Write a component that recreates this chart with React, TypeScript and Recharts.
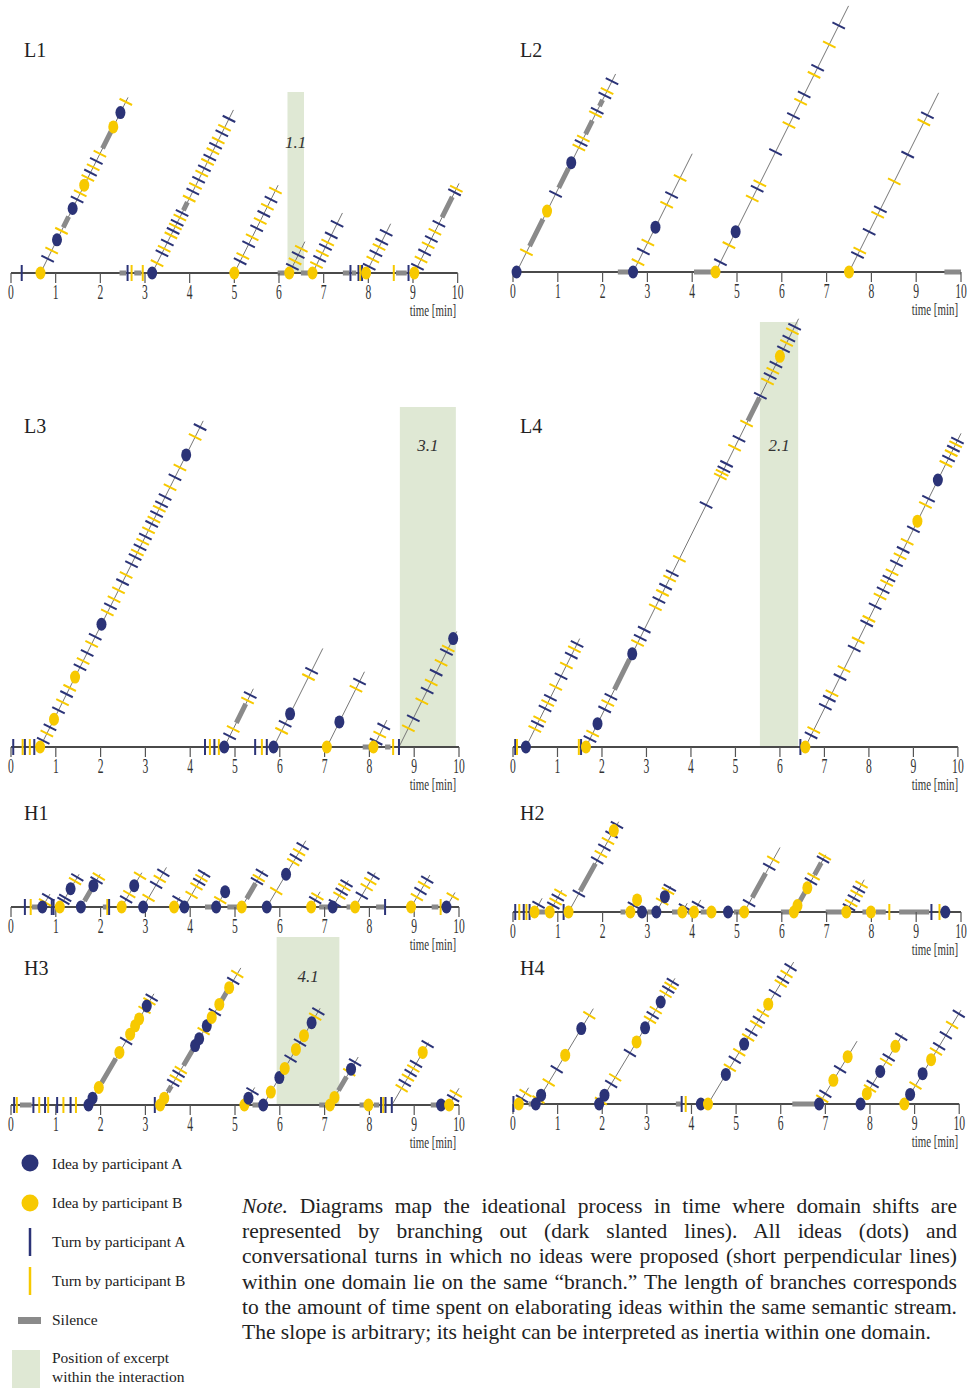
import React from 'react';
import { ComposedChart, XAxis, YAxis, Line, Scatter, ReferenceArea } from 'recharts';

// ---------- DATA ----------
// mark kinds: 'a' turn A, 'b' turn B, 'A' idea A, 'B' idea B ; times in minutes
type Mark = [number, string];
type Seg = [number, number];
type Branch = { s: number; e: number; m: Mark[]; q?: Seg[] };

const TIME_TICKS = [0, 1, 2, 3, 4, 5, 6, 7, 8, 9, 10];

const L1_base: Mark[] = [[0.24,'a'],[0.66,'B'],[2.61,'a'],[2.7,'b'],[2.95,'b'],[3.16,'A'],[5.0,'B'],[6.23,'B'],[6.75,'B'],[7.6,'a'],[7.78,'a'],[7.82,'b'],[7.86,'a'],[7.95,'B'],[8.57,'b'],[8.9,'a'],[9.03,'B']];
const L1_silence: Seg[] = [[2.43,2.58],[2.76,2.92],[5.97,6.13],[6.49,6.65],[7.43,7.58],[7.63,7.73],[8.62,8.86]];
const L1_branches: Branch[] = [
  { s: 0.66, e: 2.62, m: [[0.82,'a'],[0.91,'b'],[1.03,'A'],[1.13,'b'],[1.38,'A'],[1.48,'a'],[1.55,'b'],[1.64,'B'],[1.72,'b'],[1.78,'a'],[1.84,'b'],[1.91,'a'],[1.99,'b'],[2.29,'B'],[2.45,'A'],[2.57,'b']], q: [[1.17,1.29],[2.05,2.24]] },
  { s: 3.16, e: 4.98, m: [[3.27,'b'],[3.38,'a'],[3.43,'b'],[3.5,'a'],[3.58,'b'],[3.63,'a'],[3.68,'b'],[3.72,'a'],[3.78,'b'],[3.83,'a'],[3.99,'b'],[4.07,'a'],[4.13,'b'],[4.2,'a'],[4.27,'b'],[4.33,'a'],[4.4,'b'],[4.45,'a'],[4.52,'b'],[4.58,'a'],[4.64,'b'],[4.72,'a'],[4.78,'b'],[4.88,'a']], q: [[3.86,3.95]] },
  { s: 5.0, e: 5.98, m: [[5.13,'a'],[5.19,'b'],[5.32,'a'],[5.4,'b'],[5.5,'a'],[5.58,'b'],[5.66,'a'],[5.74,'b'],[5.82,'a'],[5.92,'b']] },
  { s: 6.23, e: 6.58, m: [[6.3,'a'],[6.36,'b'],[6.43,'a'],[6.5,'b']] },
  { s: 6.75, e: 7.42, m: [[6.84,'b'],[6.91,'a'],[6.97,'b'],[7.04,'a'],[7.09,'b'],[7.17,'a'],[7.3,'a']] },
  { s: 7.95, e: 8.5, m: [[8.02,'a'],[8.1,'b'],[8.17,'a'],[8.24,'b'],[8.3,'a'],[8.4,'a']] },
  { s: 9.03, e: 10.03, m: [[9.1,'a'],[9.18,'b'],[9.26,'a'],[9.34,'b'],[9.41,'a'],[9.49,'b'],[9.58,'a'],[9.93,'a'],[9.97,'b']], q: [[9.65,9.88]] },
];
const L1_excerpt: Seg = [6.19, 6.56];

const L2_base: Mark[] = [[0.08,'A'],[2.68,'A'],[4.52,'B'],[7.5,'B']];
const L2_silence: Seg[] = [[2.34,2.66],[4.04,4.49],[9.63,10]];
const L2_branches: Branch[] = [
  { s: 0.08, e: 2.29, m: [[0.3,'b'],[0.76,'B'],[0.95,'a'],[1.3,'A'],[1.47,'b'],[1.52,'a'],[1.57,'b'],[1.84,'b'],[1.88,'a'],[2.05,'a'],[2.1,'b'],[2.21,'a']], q: [[0.37,0.67],[1.02,1.24],[1.62,1.77],[1.93,2.0]] },
  { s: 2.68, e: 4.0, m: [[2.79,'b'],[2.91,'a'],[3.01,'b'],[3.18,'A'],[3.43,'b'],[3.54,'a'],[3.73,'b']] },
  { s: 4.52, e: 7.49, m: [[4.63,'a'],[4.82,'b'],[4.97,'A'],[5.34,'b'],[5.45,'a'],[5.51,'b'],[5.86,'a'],[6.16,'b'],[6.26,'a'],[6.42,'b'],[6.5,'a'],[6.72,'b'],[6.8,'a'],[7.06,'b'],[7.27,'a']] },
  { s: 7.5, e: 9.5, m: [[7.69,'a'],[7.74,'b'],[7.95,'a'],[8.14,'b'],[8.2,'a'],[8.51,'b'],[8.81,'a'],[9.17,'b'],[9.25,'a']] },
];

const L3_base: Mark[] = [[0.05,'a'],[0.26,'b'],[0.31,'a'],[0.42,'b'],[0.52,'a'],[0.65,'B'],[4.33,'a'],[4.44,'b'],[4.54,'a'],[4.64,'b'],[4.76,'A'],[5.45,'a'],[5.6,'b'],[5.71,'a'],[5.86,'A'],[7.05,'B'],[8.09,'B'],[8.53,'b'],[8.66,'a']];
const L3_silence: Seg[] = [[7.85,8.01],[8.35,8.47]];
const L3_branches: Branch[] = [
  { s: 0.65, e: 4.29, m: [[0.72,'a'],[0.8,'b'],[0.87,'a'],[0.96,'B'],[1.06,'a'],[1.15,'b'],[1.24,'a'],[1.31,'b'],[1.43,'B'],[1.54,'a'],[1.61,'b'],[1.7,'a'],[1.8,'b'],[1.88,'a'],[2.02,'A'],[2.15,'b'],[2.22,'a'],[2.3,'b'],[2.4,'b'],[2.49,'a'],[2.57,'b'],[2.69,'a'],[2.77,'a'],[2.82,'b'],[2.88,'a'],[2.94,'b'],[3.0,'a'],[3.07,'b'],[3.14,'a'],[3.19,'b'],[3.25,'a'],[3.31,'b'],[3.36,'a'],[3.44,'a'],[3.55,'b'],[3.66,'a'],[3.77,'b'],[3.91,'A'],[4.11,'b'],[4.22,'a']] },
  { s: 4.76, e: 5.41, m: [[4.88,'a'],[4.96,'b'],[5.28,'b'],[5.34,'a']], q: [[5.03,5.24]] },
  { s: 5.86, e: 6.96, m: [[6.04,'b'],[6.12,'a'],[6.23,'A'],[6.64,'b'],[6.71,'a']] },
  { s: 7.05, e: 7.89, m: [[7.33,'A'],[7.7,'b'],[7.78,'a']] },
  { s: 8.09, e: 8.39, m: [[8.15,'a'],[8.23,'b'],[8.32,'a']] },
  { s: 8.66, e: 9.95, m: [[8.87,'b'],[8.98,'a'],[9.17,'b'],[9.29,'a'],[9.38,'b'],[9.49,'a'],[9.6,'b'],[9.72,'a'],[9.76,'b'],[9.87,'A']] },
];
const L3_excerpt: Seg = [8.68, 9.93];

const L4_base: Mark[] = [[0.05,'a'],[0.09,'b'],[0.29,'A'],[1.48,'b'],[1.53,'a'],[1.64,'B'],[6.46,'a'],[6.57,'B']];
const L4_silence: Seg[] = [];
const L4_branches: Branch[] = [
  { s: 0.29, e: 1.5, m: [[0.49,'b'],[0.55,'a'],[0.6,'b'],[0.72,'a'],[0.78,'b'],[0.84,'a'],[0.96,'b'],[1.08,'a'],[1.2,'b'],[1.31,'a'],[1.38,'b'],[1.44,'a']] },
  { s: 1.64, e: 6.42, m: [[1.73,'a'],[1.79,'b'],[1.9,'A'],[2.06,'a'],[2.13,'b'],[2.2,'a'],[2.68,'A'],[2.8,'b'],[2.86,'a'],[2.95,'a'],[3.2,'b'],[3.28,'a'],[3.36,'b'],[3.43,'a'],[3.52,'b'],[3.58,'a'],[3.74,'b'],[4.34,'a'],[4.66,'b'],[4.7,'b'],[4.74,'a'],[4.8,'a'],[4.98,'b'],[5.08,'a'],[5.25,'b'],[5.56,'a'],[5.72,'b'],[5.78,'a'],[5.84,'b'],[5.91,'a'],[6.0,'B'],[6.08,'a'],[6.15,'b'],[6.2,'a'],[6.28,'b'],[6.33,'a']], q: [[2.28,2.62],[5.28,5.54]] },
  { s: 6.57, e: 10.07, m: [[6.7,'a'],[6.76,'b'],[7.02,'a'],[7.11,'a'],[7.17,'b'],[7.35,'a'],[7.44,'b'],[7.67,'a'],[7.76,'b'],[7.95,'a'],[8.0,'b'],[8.14,'a'],[8.25,'b'],[8.32,'a'],[8.4,'b'],[8.45,'a'],[8.52,'b'],[8.62,'a'],[8.7,'b'],[8.77,'a'],[8.86,'b'],[9.0,'a'],[9.09,'B'],[9.27,'b'],[9.34,'a'],[9.55,'A'],[9.73,'b'],[9.79,'a'],[9.85,'b'],[9.9,'a'],[9.95,'b'],[9.99,'a']] },
];
const L4_excerpt: Seg = [5.55, 6.41];

const H1_base: Mark[] = [[0.31,'a'],[0.44,'b'],[0.7,'A'],[0.91,'a'],[0.95,'a'],[1.09,'B'],[1.56,'A'],[2.15,'b'],[2.19,'a'],[2.47,'B'],[2.95,'A'],[3.64,'B'],[3.87,'A'],[4.58,'A'],[5.15,'B'],[5.71,'A'],[6.7,'B'],[7.18,'A'],[7.68,'B'],[8.35,'a'],[8.93,'B'],[9.59,'b'],[9.72,'A']];
const H1_silence: Seg[] = [[0.47,0.64],[2.05,2.14],[4.33,4.52],[4.83,5.07],[6.88,7.08],[7.49,7.58],[8.15,8.33],[9.39,9.54]];
const H1_branches: Branch[] = [
  { s: 0.7, e: 0.87, m: [[0.76,'b'],[0.83,'a']] },
  { s: 1.09, e: 1.52, m: [[1.17,'a'],[1.21,'a'],[1.33,'A'],[1.43,'b'],[1.48,'a']] },
  { s: 1.56, e: 1.99, m: [[1.84,'A'],[1.91,'a'],[1.96,'b']], q: [[1.64,1.8]] },
  { s: 2.47, e: 2.92, m: [[2.57,'a'],[2.64,'b'],[2.75,'A'],[2.88,'b']] },
  { s: 2.95, e: 3.47, m: [[3.07,'b'],[3.24,'a'],[3.32,'b'],[3.4,'a']] },
  { s: 3.64, e: 3.77, m: [[3.74,'a']] },
  { s: 3.87, e: 4.33, m: [[4.03,'b'],[4.14,'b'],[4.2,'a'],[4.25,'b'],[4.31,'a']] },
  { s: 4.58, e: 4.8, m: [[4.67,'b'],[4.78,'A']] },
  { s: 5.15, e: 5.63, m: [[5.49,'a'],[5.53,'b'],[5.6,'a']], q: [[5.26,5.46]] },
  { s: 5.71, e: 6.58, m: [[5.92,'b'],[6.14,'A'],[6.3,'b'],[6.36,'a'],[6.43,'b'],[6.51,'a']] },
  { s: 6.7, e: 6.9, m: [[6.79,'a'],[6.84,'b']] },
  { s: 7.18, e: 7.53, m: [[7.23,'a'],[7.33,'b'],[7.38,'a'],[7.44,'b'],[7.49,'a']] },
  { s: 7.68, e: 8.13, m: [[7.83,'a'],[7.94,'b'],[8.02,'b'],[8.09,'a']] },
  { s: 8.93, e: 9.35, m: [[9.06,'b'],[9.14,'a'],[9.22,'b'],[9.29,'a']] },
  { s: 9.72, e: 9.91, m: [[9.86,'b']] },
];

const H2_base: Mark[] = [[0.05,'a'],[0.14,'b'],[0.24,'a'],[0.3,'b'],[0.37,'a'],[0.48,'B'],[0.82,'B'],[1.13,'a'],[1.24,'B'],[2.62,'B'],[2.88,'A'],[3.2,'A'],[3.78,'B'],[4.04,'B'],[4.43,'B'],[4.8,'A'],[5.16,'B'],[6.27,'B'],[7.44,'B'],[7.99,'B'],[8.4,'b'],[9.34,'a'],[9.52,'b'],[9.65,'A']];
const H2_silence: Seg[] = [[0.55,0.72],[2.4,2.51],[3.0,3.13],[3.55,3.7],[3.9,3.98],[4.19,4.34],[4.93,5.07],[5.98,6.2],[6.98,7.39],[7.8,7.91],[8.1,8.32],[8.62,9.29]];
const H2_branches: Branch[] = [
  { s: 0.48, e: 0.65, m: [[0.57,'a']] },
  { s: 0.82, e: 1.09, m: [[0.9,'a'],[0.95,'b'],[1.0,'a'],[1.06,'b']] },
  { s: 1.24, e: 2.36, m: [[1.47,'a'],[1.88,'a'],[1.96,'b'],[2.04,'a'],[2.12,'b'],[2.2,'a'],[2.25,'B'],[2.32,'a']], q: [[1.5,1.84]] },
  { s: 2.62, e: 2.79, m: [[2.7,'a'],[2.77,'B']] },
  { s: 3.2, e: 3.52, m: [[3.33,'b'],[3.39,'A'],[3.46,'b'],[3.5,'a']] },
  { s: 3.78, e: 3.89, m: [[3.84,'a']] },
  { s: 4.04, e: 4.19, m: [[4.13,'a']] },
  { s: 5.16, e: 5.96, m: [[5.27,'a'],[5.72,'a'],[5.81,'b']], q: [[5.34,5.64]] },
  { s: 6.27, e: 6.98, m: [[6.35,'B'],[6.57,'B'],[6.65,'a'],[6.71,'b'],[6.92,'a'],[6.96,'b']], q: [[6.4,6.52],[6.73,6.88]] },
  { s: 7.44, e: 7.84, m: [[7.5,'a'],[7.55,'b'],[7.61,'a'],[7.67,'b'],[7.72,'a'],[7.78,'b']] },
];

const H3_base: Mark[] = [[0.07,'a'],[0.13,'b'],[0.5,'a'],[0.63,'b'],[0.76,'a'],[0.83,'b'],[1.03,'a'],[1.17,'b'],[1.33,'a'],[1.45,'b'],[1.73,'A'],[3.21,'a'],[3.33,'B'],[5.21,'B'],[5.63,'A'],[7.12,'B'],[7.98,'B'],[8.26,'a'],[8.31,'b'],[8.36,'a'],[8.5,'a'],[9.6,'A'],[9.78,'B']];
const H3_silence: Seg[] = [[0.2,0.46],[5.39,5.56],[6.88,7.08],[7.78,7.92],[8.1,8.22],[9.37,9.54]];
const H3_branches: Branch[] = [
  { s: 1.73, e: 3.19, m: [[1.82,'A'],[1.96,'B'],[2.42,'B'],[2.57,'a'],[2.66,'B'],[2.77,'B'],[2.86,'B'],[2.98,'b'],[3.03,'A'],[3.09,'b'],[3.14,'a']], q: [[2.02,2.34]] },
  { s: 3.33, e: 5.13, m: [[3.42,'B'],[3.62,'a'],[3.68,'b'],[3.74,'a'],[3.79,'b'],[4.11,'A'],[4.2,'A'],[4.3,'b'],[4.37,'A'],[4.48,'B'],[4.55,'a'],[4.65,'B'],[4.87,'B'],[4.96,'a'],[5.05,'b']], q: [[3.5,3.58],[3.85,4.06],[4.7,4.82]] },
  { s: 5.21, e: 5.44, m: [[5.3,'A'],[5.39,'a']] },
  { s: 5.63, e: 6.9, m: [[5.8,'B'],[5.99,'A'],[6.11,'B'],[6.24,'a'],[6.36,'B'],[6.45,'a'],[6.54,'B'],[6.71,'A'],[6.79,'b'],[6.86,'a']] },
  { s: 7.12, e: 7.75, m: [[7.22,'B'],[7.55,'b'],[7.59,'A'],[7.68,'a']], q: [[7.31,7.49]] },
  { s: 8.5, e: 9.32, m: [[8.72,'b'],[8.79,'a'],[8.86,'b'],[8.92,'a'],[8.98,'b'],[9.04,'a'],[9.19,'B'],[9.3,'a']] },
  { s: 9.78, e: 10.0, m: [[9.87,'a'],[9.93,'b']] },
];
const H3_excerpt: Seg = [5.93, 7.33];

const H4_base: Mark[] = [[0.01,'a'],[0.13,'B'],[0.51,'A'],[1.93,'A'],[3.78,'a'],[3.87,'b'],[4.21,'A'],[4.37,'B'],[6.86,'A'],[7.79,'A'],[8.77,'B']];
const H4_silence: Seg[] = [[0.35,0.46],[3.65,3.76],[6.26,6.8]];
const H4_branches: Branch[] = [
  { s: 0.13, e: 0.35, m: [[0.2,'a'],[0.28,'b']] },
  { s: 0.51, e: 1.8, m: [[0.57,'b'],[0.63,'A'],[0.8,'b'],[0.98,'a'],[1.17,'B'],[1.53,'A'],[1.71,'b']] },
  { s: 1.93, e: 3.63, m: [[1.97,'b'],[2.05,'A'],[2.2,'a'],[2.29,'b'],[2.62,'a'],[2.77,'B'],[2.96,'A'],[3.07,'b'],[3.13,'a'],[3.2,'b'],[3.31,'A'],[3.42,'b'],[3.48,'a'],[3.53,'b'],[3.58,'a']] },
  { s: 4.37, e: 6.29, m: [[4.77,'A'],[4.86,'b'],[4.97,'a'],[5.07,'b'],[5.18,'A'],[5.27,'b'],[5.34,'a'],[5.45,'b'],[5.51,'a'],[5.6,'b'],[5.72,'B'],[5.87,'a'],[6.0,'b'],[6.05,'a'],[6.13,'b'],[6.22,'a']] },
  { s: 6.86, e: 7.71, m: [[6.93,'b'],[7.0,'a'],[7.18,'B'],[7.33,'a'],[7.5,'B']] },
  { s: 7.79, e: 8.73, m: [[7.93,'B'],[8.0,'b'],[8.06,'a'],[8.23,'A'],[8.36,'b'],[8.42,'a'],[8.57,'B'],[8.7,'a']] },
  { s: 8.77, e: 10.04, m: [[8.9,'A'],[9.02,'b'],[9.18,'A'],[9.37,'B'],[9.48,'b'],[9.55,'a'],[9.7,'a'],[9.84,'b'],[9.99,'a']] },
];

const LEGEND_LABELS = ['Idea by participant A', 'Idea by participant B', 'Turn by participant A', 'Turn by participant B', 'Silence', 'Position of excerpt', 'within the interaction'];
const NOTE_LINES = [
  'Diagrams map the ideational process in time where domain shifts are',
  'represented by branching out (dark slanted lines). All ideas (dots) and',
  'conversational turns in which no ideas were proposed (short perpendicular lines)',
  'within one domain lie on the same \u201Cbranch.\u201D The length of branches corresponds',
  'to the amount of time spent on elaborating ideas within the same semantic stream.',
  'The slope is arbitrary; its height can be interpreted as inertia within one domain.',
];

// ---------- STYLE / LAYOUT ----------
const NAVY = '#2b3377';
const YELLOW = '#f7c900';
const SIL = '#8a8a8a';
const GREEN = '#dfe8d4';
const SERIF = '"Liberation Serif", "Times New Roman", serif';
const PX = 44.8;
const PLOTW = 448;
const ML = 12, MR = 16, XH = 50;

function build(base: Mark[], sil: Seg[], branches: Branch[], slope: number) {
  const baseline = [{ x: 0, y: 0 }, { x: 10, y: 0 }];
  const branchLine: any[] = [];
  branches.forEach((b) => {
    branchLine.push({ x: b.s, y: 0 }, { x: b.e, y: slope * (b.e - b.s) }, { x: b.e, y: null });
  });
  const silence: any[] = [];
  sil.forEach(([a, c]) => silence.push({ x: a, y: 0 }, { x: c, y: 0 }, { x: c, y: null }));
  branches.forEach((b) => (b.q || []).forEach(([a, c]) => {
    silence.push({ x: a, y: slope * (a - b.s) }, { x: c, y: slope * (c - b.s) }, { x: c, y: null });
  }));
  const turns: any[] = [];
  const ideas: any[] = [];
  const add = (t: number, k: string, y: number, br: boolean) => {
    const rec = { x: t, y, who: k.toUpperCase(), br, slope };
    if (k === 'a' || k === 'b') turns.push(rec); else ideas.push(rec);
  };
  base.forEach(([t, k]) => add(t, k, 0, false));
  branches.forEach((b) => b.m.forEach(([t, k]) => add(t, k, slope * (t - b.s), true)));
  return { baseline, branchLine, silence, turns, ideas };
}

const TickShape = (p: any) => {
  const { cx, cy, payload } = p;
  if (cx == null || cy == null) return <g />;
  const col = payload.who === 'A' ? NAVY : YELLOW;
  let dx = 0, dy = 8;
  if (payload.br) {
    const n = Math.sqrt(1 + payload.slope * payload.slope);
    dx = (7 * payload.slope) / n;
    dy = 7 / n;
  }
  return <line x1={cx - dx} y1={cy - dy} x2={cx + dx} y2={cy + dy} stroke={col} strokeWidth={2} />;
};

const IdeaShape = (p: any) => {
  const { cx, cy, payload } = p;
  if (cx == null || cy == null) return <g />;
  return <ellipse cx={cx} cy={cy} rx={5} ry={6.5} fill={payload.who === 'A' ? NAVY : YELLOW} />;
};

const AxisTick = (p: any) => (
  <text transform={`translate(${p.x},${p.y + 14}) scale(0.58,1)`} textAnchor="middle" fontFamily={SERIF} fontSize={20} fill="#333">
    {p.payload.value}
  </text>
);

type PanelCfg = {
  name: string; x0: number; baseline: number; top: number; slope: number;
  base: Mark[]; sil: Seg[]; branches: Branch[];
  excerpt?: Seg; exLabel?: string; exTop?: number; exOffset?: number; labelX: number; labelY: number;
};

function Panel({ c }: { c: PanelCfg }) {
  const d = build(c.base, c.sil, c.branches, c.slope);
  const plotH = c.baseline - c.top;
  const ymax = plotH / PX;
  const lineCommon = { dataKey: 'y', dot: false, activeDot: false, isAnimationActive: false, connectNulls: false, type: 'linear' as const };
  return (
    <>
      <div style={{ position: 'absolute', left: c.labelX, top: c.labelY - 13, fontFamily: SERIF, fontSize: 20, lineHeight: '26px', color: '#222' }}>{c.name}</div>
      <div style={{ position: 'absolute', left: c.x0 - ML, top: c.top }}>
        <ComposedChart width={ML + PLOTW + MR} height={plotH + XH} margin={{ top: 0, right: MR, left: ML, bottom: 0 }}>
          <XAxis type="number" dataKey="x" domain={[0, 10]} ticks={TIME_TICKS} interval={0} axisLine={false}
            tickLine={{ stroke: '#555', strokeWidth: 1.2 }} tickSize={10} height={XH} tick={<AxisTick />} />
          <YAxis type="number" dataKey="y" domain={[0, ymax]} hide />
          {c.excerpt && (
            <ReferenceArea x1={c.excerpt[0]} x2={c.excerpt[1]} y1={0} y2={(c.baseline - (c.exTop || 0)) / PX}
              fill={GREEN} fillOpacity={1} stroke="none" ifOverflow="visible"
              label={{ value: c.exLabel, position: 'insideTop', offset: c.exOffset, fill: '#333', fontSize: 17, fontStyle: 'italic', fontFamily: SERIF }} />
          )}
          <Line {...lineCommon} data={d.baseline} stroke="#4a4a4a" strokeWidth={1.8} />
          <Line {...lineCommon} data={d.branchLine} stroke="#777" strokeWidth={1} />
          <Line {...lineCommon} data={d.silence} stroke={SIL} strokeWidth={5} />
          <Scatter data={d.turns} shape={TickShape} isAnimationActive={false} />
          <Scatter data={d.ideas} shape={IdeaShape} isAnimationActive={false} />
        </ComposedChart>
      </div>
      <div style={{ position: 'absolute', left: c.x0 + PLOTW - 120, width: 117, top: c.baseline + 29, textAlign: 'right', fontFamily: SERIF, fontSize: 16, lineHeight: '18px', color: '#333', transform: 'scaleX(0.68)', transformOrigin: 'right center', whiteSpace: 'nowrap' }}>time [min]</div>
    </>
  );
}

const PANELS: PanelCfg[] = [
  { name: 'L1', x0: 11, baseline: 273, top: 85, slope: 2, base: L1_base, sil: L1_silence, branches: L1_branches, excerpt: L1_excerpt, exLabel: '1.1', exTop: 92, exOffset: 44, labelX: 24, labelY: 50 },
  { name: 'L2', x0: 513, baseline: 272, top: 0, slope: 2, base: L2_base, sil: L2_silence, branches: L2_branches, labelX: 520, labelY: 50 },
  { name: 'L3', x0: 11, baseline: 747, top: 400, slope: 2, base: L3_base, sil: L3_silence, branches: L3_branches, excerpt: L3_excerpt, exLabel: '3.1', exTop: 407, exOffset: 32, labelX: 24, labelY: 426 },
  { name: 'L4', x0: 513, baseline: 747, top: 315, slope: 2, base: L4_base, sil: L4_silence, branches: L4_branches, excerpt: L4_excerpt, exLabel: '2.1', exTop: 322, exOffset: 117, labelX: 520, labelY: 426 },
  { name: 'H1', x0: 11, baseline: 907, top: 820, slope: 1.7, base: H1_base, sil: H1_silence, branches: H1_branches, labelX: 24, labelY: 813 },
  { name: 'H2', x0: 513, baseline: 912, top: 815, slope: 1.8, base: H2_base, sil: H2_silence, branches: H2_branches, labelX: 520, labelY: 813 },
  { name: 'H3', x0: 11, baseline: 1105, top: 930, slope: 1.7, base: H3_base, sil: H3_silence, branches: H3_branches, excerpt: H3_excerpt, exLabel: '4.1', exTop: 937, exOffset: 33, labelX: 24, labelY: 968 },
  { name: 'H4', x0: 513, baseline: 1104, top: 955, slope: 1.65, base: H4_base, sil: H4_silence, branches: H4_branches, labelX: 520, labelY: 968 },
];

function Legend() {
  const ys = [1164, 1203, 1242, 1281, 1320, 1358, 1377];
  return (
    <>
      <svg style={{ position: 'absolute', left: 0, top: 1140 }} width={50} height={248}>
        <ellipse cx={30} cy={1163 - 1140} rx={8.5} ry={8.5} fill={NAVY} />
        <ellipse cx={30} cy={1203 - 1140} rx={8.5} ry={8.5} fill={YELLOW} />
        <line x1={30} x2={30} y1={1228 - 1140} y2={1256 - 1140} stroke={NAVY} strokeWidth={2.5} />
        <line x1={30} x2={30} y1={1267 - 1140} y2={1295 - 1140} stroke={YELLOW} strokeWidth={2.5} />
        <rect x={18} y={1317 - 1140} width={23} height={7} fill={SIL} />
        <rect x={12} y={1350 - 1140} width={28} height={38} fill={GREEN} />
      </svg>
      {LEGEND_LABELS.map((t, i) => (
        <div key={t} style={{ position: 'absolute', left: 52, top: ys[i] - 10, fontFamily: SERIF, fontSize: 15.5, lineHeight: '20px', color: '#222', whiteSpace: 'nowrap' }}>{t}</div>
      ))}
    </>
  );
}

function Note() {
  return (
    <div style={{ position: 'absolute', left: 242, top: 1194, width: 715, fontFamily: SERIF, fontSize: 21.5, lineHeight: '25.2px', color: '#222' }}>
      {NOTE_LINES.map((l, i) => (
        <div key={i} style={{ textAlign: 'justify', textAlignLast: i < NOTE_LINES.length - 1 ? 'justify' : 'left', whiteSpace: 'nowrap', overflow: 'visible' } as any}>
          {i === 0 ? <><i>Note.</i> {l}</> : l}
        </div>
      ))}
    </div>
  );
}

export default function App() {
  return (
    <div style={{ position: 'absolute', left: 0, top: 0, width: 971, height: 1388, background: '#fff', overflow: 'hidden' }}>
      {PANELS.map((c) => <Panel key={c.name} c={c} />)}
      <Legend />
      <Note />
    </div>
  );
}
